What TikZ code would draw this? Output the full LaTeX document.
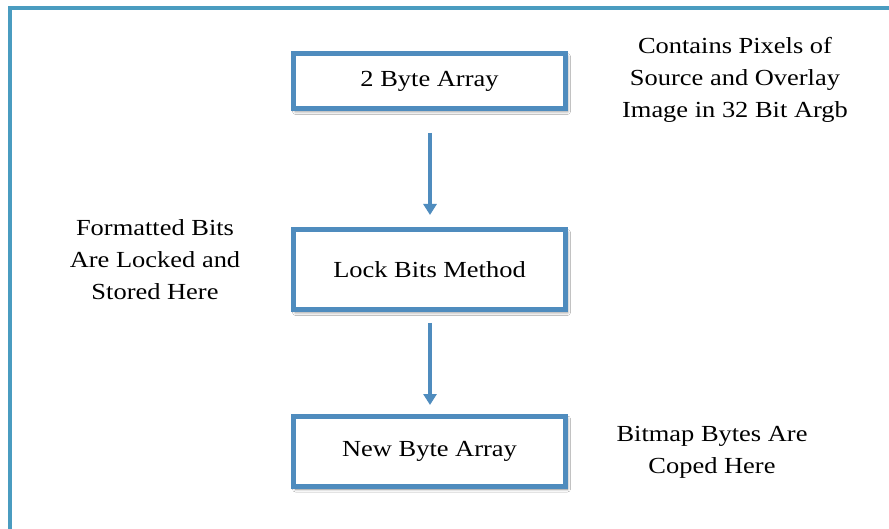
\documentclass[tikz,border=0pt]{standalone}
\usepackage{fontspec}
\setmainfont{Liberation Serif}[FakeStretch=1.15]
\usetikzlibrary{shadows.blur,arrows.meta}
\definecolor{framec}{HTML}{4A9CC0}
\definecolor{boxc}{HTML}{4F8CBE}
\begin{document}
\begin{tikzpicture}[x=1pt,y=-1pt,
  stepbox/.style={draw=boxc,line width=5pt,fill=white,minimum width=272pt,minimum height=55pt,
    inner sep=0pt,font=\fontsize{23}{27}\selectfont,
    blur shadow={shadow xshift=2pt,shadow yshift=-3pt,shadow blur radius=3pt,shadow opacity=45}},
  note/.style={align=center,font=\fontsize{23}{32}\selectfont,inner sep=0pt},
  flow/.style={draw=boxc,line width=4pt,-{Triangle[length=11pt,width=13pt]},shorten >=0pt}]
\useasboundingbox (0,0) rectangle (889,529);
\fill[white] (0,0) rectangle (889,529);
\draw[framec,line width=4pt] (10,529) -- (10,8.5) -- (889,8.5);
\node[stepbox] (a) at (429.5,81) {2 Byte Array};
\node[stepbox,minimum height=80pt] (b) at (429.5,269.5) {Lock Bits Method};
\node[stepbox,minimum height=70pt] (c) at (429.5,451) {New Byte Array};
\coordinate (a1) at (430,133);
\coordinate (b0) at (430,215);
\coordinate (b1) at (430,323);
\coordinate (c0) at (430,405);
\draw[flow] (a1) -- (b0);
\draw[flow] (b1) -- (c0);
\node[note] (na) at (735,80) {Contains Pixels of\\Source and Overlay\\Image in 32 Bit Argb};
\node[note] (nb) at (155,260) {Formatted Bits\\Are Locked and\\Stored Here};
\node[note] (nc) at (712,452) {Bitmap Bytes Are\\Coped Here};
\end{tikzpicture}
\end{document}
